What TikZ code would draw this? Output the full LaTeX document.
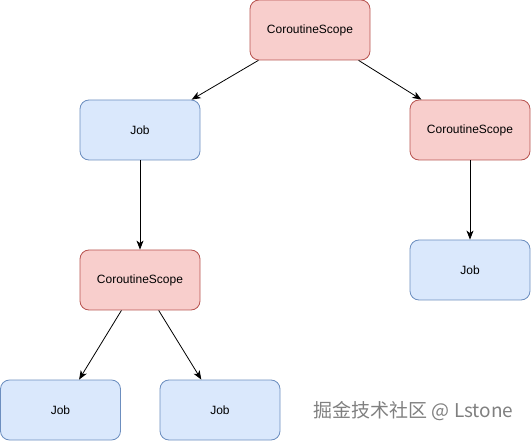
\documentclass[tikz,border=0pt]{standalone}
\usepackage{fontspec}
\setmainfont{Liberation Sans}
\newfontfamily\cjkfont{Noto Sans CJK SC}
\usepackage{xcolor}
\usepackage{tikz}
\usetikzlibrary{arrows.meta,positioning}
\definecolor{scopefill}{HTML}{F8CECC}
\definecolor{scopeline}{HTML}{B85450}
\definecolor{jobfill}{HTML}{DAE8FC}
\definecolor{jobline}{HTML}{6C8EBF}

\begin{document}
\begin{tikzpicture}[
  x=1pt, y=-1pt,
  box/.style={draw, rounded corners=9pt, minimum width=120pt, minimum height=60pt, align=center, font=\fontsize{12}{14}\selectfont, line width=0.8pt},
  scope/.style={box, fill=scopefill, draw=scopeline},
  job/.style={box, fill=jobfill, draw=jobline},
  arrow/.style={-{Stealth[length=9pt, width=7pt, inset=2.5pt]}, line width=0.8pt}
]
\useasboundingbox (0,0) rectangle (531,441);

\node[scope] (rootScope) at (310,30) {CoroutineScope};
\node[job] (leftJob) at (140,130) {Job};
\node[scope] (rightScope) at (470,130) {CoroutineScope};
\node[scope] (midScope) at (140,280) {CoroutineScope};
\node[job] (rightJob) at (470,270) {Job};
\node[job] (leafJobA) at (60.5,410) {Job};
\node[job] (leafJobB) at (220,410) {Job};

\foreach \i/\j in {rootScope/leftJob, rootScope/rightScope, leftJob/midScope, rightScope/rightJob, midScope/leafJobA, midScope/leafJobB} {
  \draw[arrow] (\i) -- (\j);
}

% watermark
\node[anchor=east, text=black!50, font=\cjkfont\fontsize{19}{21}\selectfont] (mark) at (517,411) {掘金技术社区 @ Lstone};
\end{tikzpicture}
\end{document}
